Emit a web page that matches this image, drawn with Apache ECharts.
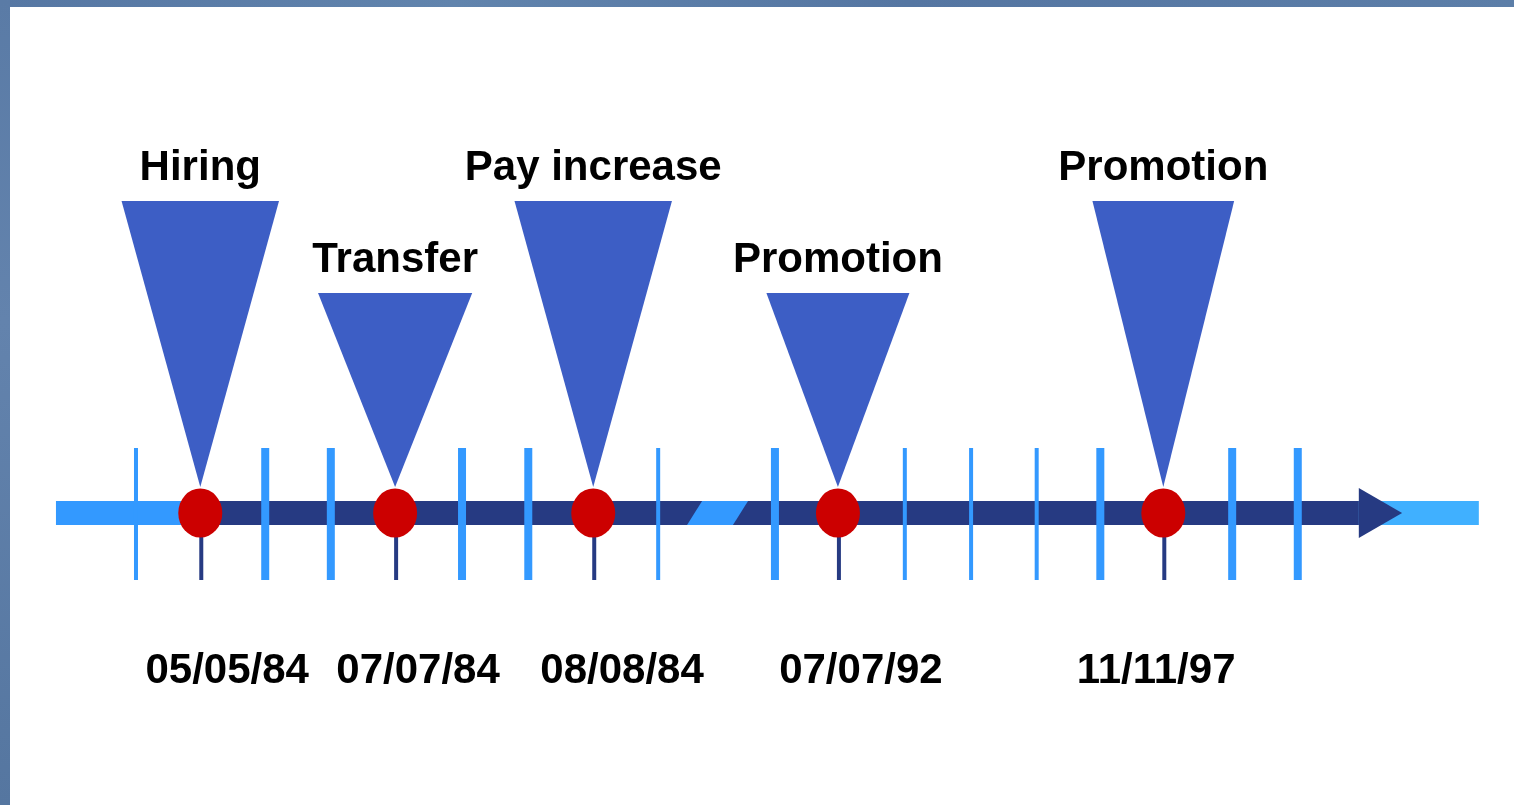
<!DOCTYPE html>
<html>
<head>
<meta charset="utf-8">
<title>Timeline</title>
<script src="https://cdn.jsdelivr.net/npm/echarts@6/dist/echarts.min.js"></script>
<style>
  html, body { margin: 0; padding: 0; background: #fff; }
  #chart { width: 1514px; height: 805px; }
</style>
</head>
<body>
<div id="chart"></div>
<script>
// events on the timeline (x in timeline units, y in height units above the bar)
const eventLabels = ["Hiring", "Transfer", "Pay increase", "Promotion", "Promotion"];
const eventDates = ["05/05/84", "07/07/84", "08/08/84", "07/07/92", "11/11/97"];
const eventX = [0.98, 3.95, 6.97, 10.70, 15.66];
const wedgeTop = [31.2, 22.0, 31.2, 22.0, 31.2];
const wedgeWidth = [2.4, 2.35, 2.4, 2.18, 2.16];
const labelY = [34.5, 25.3, 34.5, 25.3, 34.5];
const dateX = [1.39, 4.30, 7.41, 11.05, 15.55];
const dateY = -15.8;

// tick marks along the bar
const tickX = [0, 1.97, 2.97, 4.97, 5.98, 7.96, 9.74, 11.72, 12.73, 13.73, 14.70, 16.71, 17.71];
const tickHeavy = [0, 1, 1, 1, 1, 0, 1, 0, 0, 0, 1, 1, 1];

// bar pieces
const barStart = -1.22;
const barEnd = 20.47;
const arrowBase = 18.64;
const arrowTip = 19.30;
const breakTop = [8.63, 9.33];
const breakBottom = [8.40, 9.10];

const LIGHT = "#3399ff";
const LIGHT2 = "#40b0ff";
const DARK = "#263a82";
const WEDGE = "#3d5ec5";
const RED = "#cc0000";
const FONT = "bold 42px 'Liberation Sans', Arial, sans-serif";

let myChart = echarts.init(document.getElementById("chart"));

function rectBetween(api, x0, x1, y0, y1, fill) {
  const a = api.coord([x0, y1]);
  const b = api.coord([x1, y0]);
  return {
    type: "rect",
    shape: { x: a[0], y: a[1], width: b[0] - a[0], height: b[1] - a[1] },
    style: { fill: fill },
  };
}

myChart.setOption({
  backgroundColor: "#fff",
  animation: false,
  grid: { left: 0, right: 0, top: 0, bottom: 0 },
  xAxis: { type: "value", min: -2.073, max: 21.006, show: false },
  yAxis: { type: "value", min: -29.2, max: 51.3, show: false },
  graphic: [
    // blue frame on top and left
    { type: "rect", left: 0, top: 0, shape: { width: 1514, height: 7 },
      style: { fill: new echarts.graphic.LinearGradient(0, 0, 1, 0, [
        { offset: 0, color: "#5677a3" }, { offset: 0.3, color: "#6184ad" },
        { offset: 0.6, color: "#5576a2" }, { offset: 1, color: "#5c7ea8" }]) }, z: 100 },
    { type: "rect", left: 0, top: 0, shape: { width: 10, height: 805 },
      style: { fill: new echarts.graphic.LinearGradient(0, 0, 0, 1, [
        { offset: 0, color: "#5a7ba6" }, { offset: 0.4, color: "#6383ad" },
        { offset: 1, color: "#5576a0" }]) }, z: 100 },
  ],
  series: [
    {
      // main bar + arrow
      type: "custom",
      z: 2,
      data: [[0, 0]],
      renderItem: (params, api) => {
        const h = 1.2;
        const tipL = api.coord([arrowBase, 2.5]);
        const tipM = api.coord([arrowTip, 0]);
        const tipR = api.coord([arrowBase, -2.5]);
        const b1 = api.coord([breakTop[0], h]);
        const b2 = api.coord([breakTop[1], h]);
        const b3 = api.coord([breakBottom[1], -h]);
        const b4 = api.coord([breakBottom[0], -h]);
        return {
          type: "group",
          children: [
            rectBetween(api, barStart, arrowBase, -h, h, LIGHT),
            rectBetween(api, arrowBase, barEnd, -h, h, LIGHT2),
            rectBetween(api, eventX[0], arrowBase, -h, h, DARK),
            { type: "polygon", shape: { points: [tipL, tipM, tipR] }, style: { fill: DARK } },
            { type: "polygon", shape: { points: [b1, b2, b3, b4] }, style: { fill: LIGHT } },
          ],
        };
      },
    },
    {
      // tick marks
      type: "custom",
      z: 3,
      data: tickX.map((x, i) => [x, tickHeavy[i]]),
      renderItem: (params, api) => {
        const top = api.coord([api.value(0), 6.5]);
        const bot = api.coord([api.value(0), -6.7]);
        const w = api.value(1) ? 8 : 4;
        return {
          type: "rect",
          shape: { x: top[0] - w / 2, y: top[1], width: w, height: bot[1] - top[1] },
          style: { fill: LIGHT },
        };
      },
    },
    {
      // stems below the events
      type: "custom",
      z: 3,
      data: eventX.map((x) => [x]),
      renderItem: (params, api) => {
        const top = api.coord([api.value(0), -1.2]);
        const bot = api.coord([api.value(0), -6.7]);
        return {
          type: "rect",
          shape: { x: top[0] - 1, y: top[1], width: 4, height: bot[1] - top[1] },
          style: { fill: DARK },
        };
      },
    },
    {
      // wedges pointing at the events
      type: "custom",
      z: 4,
      data: eventX.map((x, i) => [x, wedgeTop[i], wedgeWidth[i]]),
      renderItem: (params, api) => {
        const x = api.value(0);
        const top = api.value(1);
        const w = api.value(2);
        return {
          type: "polygon",
          shape: {
            points: [
              api.coord([x - w / 2, top]),
              api.coord([x + w / 2, top]),
              api.coord([x, 2.6]),
            ],
          },
          style: { fill: WEDGE },
        };
      },
    },
    {
      // red dots
      type: "scatter",
      z: 5,
      symbol: "circle",
      symbolSize: [44, 49],
      itemStyle: { color: RED, opacity: 1 },
      data: eventX.map((x) => [x, 0]),
    },
    {
      // event names
      type: "custom",
      z: 6,
      data: eventX.map((x, i) => [x, labelY[i], i]),
      renderItem: (params, api) => {
        const p = api.coord([api.value(0), api.value(1)]);
        return {
          type: "text",
          x: p[0],
          y: p[1],
          style: {
            text: eventLabels[api.value(2)],
            font: FONT,
            fill: "#000",
            align: "center",
            verticalAlign: "middle",
          },
        };
      },
    },
    {
      // dates
      type: "custom",
      z: 6,
      data: dateX.map((x, i) => [x, dateY, i]),
      renderItem: (params, api) => {
        const p = api.coord([api.value(0), api.value(1)]);
        return {
          type: "text",
          x: p[0],
          y: p[1],
          style: {
            text: eventDates[api.value(2)],
            font: FONT,
            fill: "#000",
            align: "center",
            verticalAlign: "middle",
          },
        };
      },
    },
  ],
});

window.addEventListener("resize", () => {
  myChart.resize();
});
</script>
</body>
</html>
